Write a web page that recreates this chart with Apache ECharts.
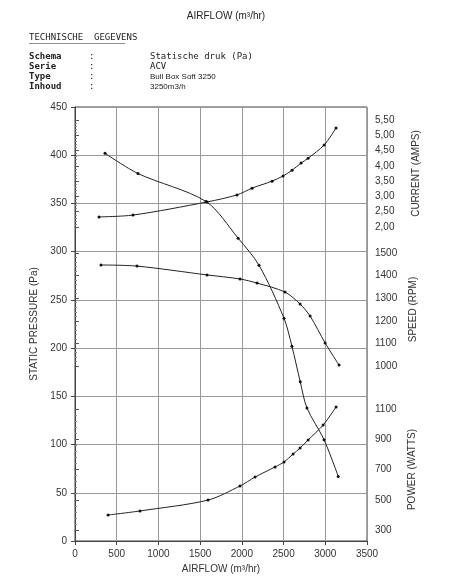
<!DOCTYPE html><html><head><meta charset="utf-8"><script src="https://cdn.jsdelivr.net/npm/echarts@6/dist/echarts.min.js"></script></head><body style="margin:0"><div id="c" style="width:452px;height:584px"></div><script>
const pressureX=[360,755,1570,1955,2205,2505,2600,2700,2780,2985,3155];
const pressureY=[402,381,352,314,286,231,202,165,138,105,67];
const currentX=[288,695,1583,1942,2122,2362,2494,2602,2710,2794,2986,3129];
const currentY=[2.33,2.39,2.82,3.05,3.27,3.50,3.67,3.86,4.09,4.25,4.68,5.24];
const speedX=[312,743,1583,1978,2182,2518,2698,2818,2998,3165];
const speedY=[1447,1442,1403,1385,1367,1327,1274,1221,1102,1004];
const powerX=[396,779,1595,1978,2158,2398,2506,2614,2698,2794,2974,3129];
const powerY=[399,426,498,591,650,717,750,802,842,895,994,1113];
const zip=(a,b)=>a.map((v,i)=>[v,b[i]]);
const F='Liberation Sans, Arial, sans-serif';
const ch=echarts.init(document.getElementById('c'));
const plain=v=>String(v);
const lbl={color:'#333',fontSize:10,fontFamily:F,formatter:plain};
function rightAxis(gi,min,max,interval,name,fmt){return {gridIndex:gi,type:'value',position:'right',min,max,interval,
 axisLine:{show:false},axisTick:{show:true,length:4,lineStyle:{color:'#555'}},minorTick:{show:true,splitNumber:5,length:2,lineStyle:{color:'#888'}},
 splitLine:{show:false},axisLabel:Object.assign({},lbl,{margin:8,formatter:fmt||plain}),
 name,nameLocation:'middle',nameRotate:90,nameGap:fmt?44:40,nameTextStyle:{color:'#333',fontSize:10,fontFamily:F}};}
const hidX=gi=>({gridIndex:gi,type:'value',min:0,max:3500,show:false});
const sty={type:'line',smooth:0.3,symbol:'circle',symbolSize:3,clip:false,lineStyle:{color:'#222',width:1},itemStyle:{color:'#111'}};
ch.setOption({animation:false,
grid:[{left:75,right:85,top:107,bottom:43,show:true,borderColor:'#444',borderWidth:1},
 {left:75,right:85,top:120,height:107},{left:75,right:85,top:253,height:113},{left:75,right:85,top:409,height:121}],
xAxis:[{gridIndex:0,type:'value',min:0,max:3500,interval:500,axisLine:{lineStyle:{color:'#444'}},axisTick:{length:4},
 splitLine:{lineStyle:{color:'#999'}},axisLabel:lbl,name:'AIRFLOW (m³/hr)',nameLocation:'middle',nameGap:22,nameTextStyle:{color:'#333',fontSize:10,fontFamily:F}},
 hidX(1),hidX(2),hidX(3)],
yAxis:[{gridIndex:0,type:'value',min:0,max:450,interval:50,axisLine:{lineStyle:{color:'#444'}},axisTick:{length:4},
 splitLine:{lineStyle:{color:'#999'}},axisLabel:lbl,name:'STATIC PRESSURE (Pa)',nameLocation:'middle',nameGap:36,nameTextStyle:{color:'#333',fontSize:10,fontFamily:F}},
 rightAxis(1,2,5.5,0.5,'CURRENT (AMPS)',v=>v.toFixed(2).replace('.',',')),
 rightAxis(2,1000,1500,100,'SPEED (RPM)'),
 rightAxis(3,300,1100,200,'POWER (WATTS)')],
series:[Object.assign({data:zip(pressureX,pressureY),xAxisIndex:0,yAxisIndex:0},sty),
 Object.assign({data:zip(currentX,currentY),xAxisIndex:1,yAxisIndex:1},sty),
 Object.assign({data:zip(speedX,speedY),xAxisIndex:2,yAxisIndex:2},sty),
 Object.assign({data:zip(powerX,powerY),xAxisIndex:3,yAxisIndex:3},sty)],
graphic:[
 {type:'text',left:'center',top:11,style:{text:'AIRFLOW (m³/hr)',fill:'#222',font:'10px '+F}},
 {type:'text',left:29,top:33,style:{text:'TECHNISCHE  GEGEVENS',fill:'#222',font:'9px DejaVu Sans Mono'}},
 {type:'rect',shape:{x:29,y:43,width:96,height:0.6},style:{fill:'#222'}},
 {type:'text',left:29,top:52,style:{text:'Schema\nSerie\nType\nInhoud',fill:'#222',font:'bold 9px DejaVu Sans Mono',lineHeight:10}},
 {type:'text',left:89,top:52,style:{text:':\n:\n:\n:',fill:'#222',font:'9px DejaVu Sans Mono',lineHeight:10}},
 {type:'text',left:150,top:52,style:{text:'Statische druk (Pa)\nACV',fill:'#222',font:'9px DejaVu Sans Mono',lineHeight:10}},
 {type:'text',left:150,top:72,style:{text:'Bull Box Soft 3250\n3250m3/h',fill:'#222',font:'8px '+F,lineHeight:10}}
]});
</script></body></html>
